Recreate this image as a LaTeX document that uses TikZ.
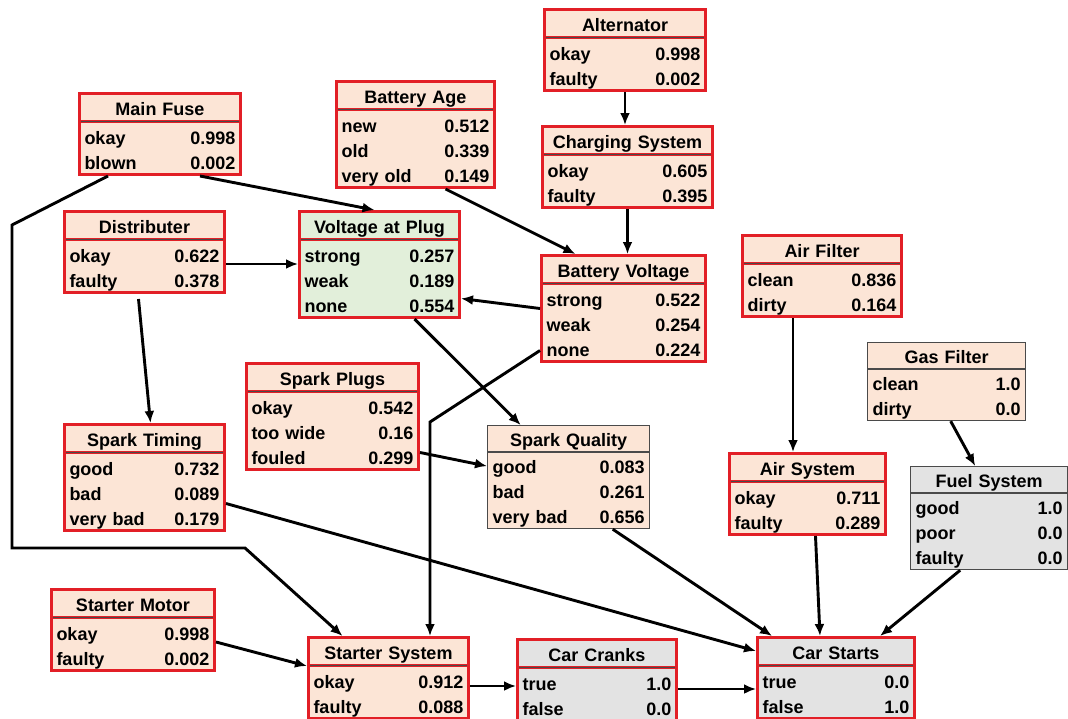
\documentclass[tikz,border=0pt]{standalone}
\usepackage{fontspec}
\setmainfont{Liberation Sans}
\usetikzlibrary{positioning,arrows.meta,calc,shapes.multipart}
\definecolor{cptred}{HTML}{E21F26}
\definecolor{peach}{HTML}{FCE5D6}
\definecolor{plugreen}{HTML}{E2EFDA}
\definecolor{evgray}{HTML}{E3E3E3}
\definecolor{rimgray}{HTML}{4A4A4A}
\newcommand{\cpttitle}[1]{\rule[-5pt]{0pt}{25pt}#1}
\newcommand{\cptrow}[2]{\makebox[\linewidth]{\rule[-4pt]{0pt}{25pt}#1\hfill#2}}
\tikzset{
  flowarrow/.style={-{Latex[length=12pt,width=10pt]}, line width=2.9pt},
  cpt/.style={draw=cptred, line width=3pt, fill=peach, rectangle split, rectangle split parts=2,
    inner xsep=5pt, inner ysep=0pt, align=center, anchor=north west,
    font=\fontsize{18}{25}\selectfont\bfseries},
  plugcpt/.style={cpt, fill=plugreen},
  evidence/.style={cpt, fill=evgray},
  softcpt/.style={cpt, draw=rimgray, line width=1.4pt},
  sepline/.style={draw=rimgray, line width=1.5pt}
}

\begin{document}
\begin{tikzpicture}[x=1pt, y=-1pt, >=Latex]
  \useasboundingbox (0,0) rectangle (1068,718);
  \fill[white] (0,0) rectangle (1068,718);

  % root nodes
  \node[cpt, text width=151pt] (fuse) at (78,92) {\cpttitle{Main Fuse}\nodepart{two}\cptrow{okay}{0.998}\\\cptrow{blown}{0.002}};
  \node[cpt, text width=148pt] (age) at (335,80) {\cpttitle{Battery Age}\nodepart{two}\cptrow{new}{0.512}\\\cptrow{old}{0.339}\\\cptrow{very old}{0.149}};
  \node[cpt, text width=151pt] (alt) at (543,8) {\cpttitle{Alternator}\nodepart{two}\cptrow{okay}{0.998}\\\cptrow{faulty}{0.002}};
  \node[cpt, text width=150pt] (dist) at (63,210) {\cpttitle{Distributer}\nodepart{two}\cptrow{okay}{0.622}\\\cptrow{faulty}{0.378}};
  \node[cpt, text width=149pt] (airf) at (741,234) {\cpttitle{Air Filter}\nodepart{two}\cptrow{clean}{0.836}\\\cptrow{dirty}{0.164}};
  \node[softcpt, text width=148pt] (gasf) at (867,342) {\cpttitle{Gas Filter}\nodepart{two}\cptrow{clean}{1.0}\\\cptrow{dirty}{0.0}};
  \node[cpt, text width=162pt] (plugs) at (245,362) {\cpttitle{Spark Plugs}\nodepart{two}\cptrow{okay}{0.542}\\\cptrow{too wide}{0.16}\\\cptrow{fouled}{0.299}};
  \node[cpt, text width=153pt] (motor) at (50,588) {\cpttitle{Starter Motor}\nodepart{two}\cptrow{okay}{0.998}\\\cptrow{faulty}{0.002}};

  % inner nodes
  \node[cpt, text width=160pt] (charge) at (541,125) {\cpttitle{Charging System}\nodepart{two}\cptrow{okay}{0.605}\\\cptrow{faulty}{0.395}};
  \node[plugcpt, text width=150pt] (vplug) at (298,210) {\cpttitle{Voltage at Plug}\nodepart{two}\cptrow{strong}{0.257}\\\cptrow{weak}{0.189}\\\cptrow{none}{0.554}};
  \node[cpt, text width=154pt] (batt) at (540,254) {\cpttitle{Battery Voltage}\nodepart{two}\cptrow{strong}{0.522}\\\cptrow{weak}{0.254}\\\cptrow{none}{0.224}};
  \node[softcpt, text width=152pt] (squal) at (487,425) {\cpttitle{Spark Quality}\nodepart{two}\cptrow{good}{0.083}\\\cptrow{bad}{0.261}\\\cptrow{very bad}{0.656}};
  \node[cpt, text width=150pt] (timing) at (63,423) {\cpttitle{Spark Timing}\nodepart{two}\cptrow{good}{0.732}\\\cptrow{bad}{0.089}\\\cptrow{very bad}{0.179}};
  \node[cpt, text width=146pt] (airsys) at (728,452) {\cpttitle{Air System}\nodepart{two}\cptrow{okay}{0.711}\\\cptrow{faulty}{0.289}};
  \node[softcpt, fill=evgray, text width=147pt] (fuel) at (910,466) {\cpttitle{Fuel System}\nodepart{two}\cptrow{good}{1.0}\\\cptrow{poor}{0.0}\\\cptrow{faulty}{0.0}};
  \node[cpt, text width=150pt] (starter) at (307,636) {\cpttitle{Starter System}\nodepart{two}\cptrow{okay}{0.912}\\\cptrow{faulty}{0.088}};

  % observed nodes
  \node[evidence, text width=149pt] (cranks) at (516,638) {\cpttitle{Car Cranks}\nodepart{two}\cptrow{true}{1.0}\\\cptrow{false}{0.0}};
  \node[evidence, text width=147pt] (starts) at (756,636) {\cpttitle{Car Starts}\nodepart{two}\cptrow{true}{0.0}\\\cptrow{false}{1.0}};

  % header rules
  \foreach \n in {fuse,age,alt,charge,dist,vplug,batt,airf,plugs,timing,airsys,motor,starter,cranks,starts}
    \draw[sepline] ([xshift=3pt]\n.one split west) -- ([xshift=-3pt]\n.one split east);
  \foreach \n in {gasf,squal,fuel}
    \draw[sepline] ([xshift=1.4pt]\n.one split west) -- ([xshift=-1.4pt]\n.one split east);

  % arcs
  \draw[flowarrow] ([xshift=40pt]fuse.south) -- ([xshift=-5pt]vplug.north);
  \draw[flowarrow] ([xshift=-52pt]fuse.south) -- (12,225) -- (12,548) -- (245,548) -- ([xshift=-46pt]starter.north);
  \coordinate (disttap) at ([yshift=-12pt]dist.east);
  \draw[flowarrow] (disttap) -- (disttap -| vplug.west);
  \draw[flowarrow] ([xshift=-6pt,yshift=-5pt]dist.south) -- ([xshift=6pt]timing.north);
  \draw[flowarrow] ([xshift=30pt]age.south) -- ([xshift=-48pt]batt.north);
  \draw[flowarrow] (alt.south) -- (alt.south |- charge.north);
  \draw[flowarrow] (charge.south) -- (charge.south |- batt.north);
  \draw[flowarrow] (batt.west) -- ([yshift=-34pt]vplug.east);
  \coordinate (battbend) at (430,422);
  \draw[flowarrow] ([yshift=-42pt]batt.west) -- (battbend) -- (battbend |- starter.north);
  \draw[flowarrow] ([xshift=35pt]vplug.south) -- ([xshift=-48pt]squal.north);
  \draw[flowarrow] ([yshift=-36pt]plugs.east) -- ([yshift=11pt]squal.west);
  \draw[flowarrow] ([yshift=-26pt]timing.east) -- ([yshift=27pt]starts.west);
  \draw[flowarrow] ([xshift=44pt]squal.south) -- ([xshift=-64pt]starts.north);
  \coordinate (airtap) at ([xshift=-29pt]airf.south);
  \draw[flowarrow] (airtap) -- (airtap |- airsys.north);
  \draw[flowarrow] ([xshift=4pt]gasf.south) -- ([xshift=-14pt]fuel.north);
  \draw[flowarrow] ([xshift=8pt]airsys.south) -- ([xshift=-16pt]starts.north);
  \draw[flowarrow] ([xshift=-29pt]fuel.south) -- ([xshift=44pt]starts.north);
  \draw[flowarrow] ([yshift=-12pt]motor.east) -- ([yshift=12pt]starter.west);
  \coordinate (startertap) at ([yshift=-8pt]starter.east);
  \draw[flowarrow] (startertap) -- (startertap -| cranks.west);
  \coordinate (crankstap) at ([yshift=-9pt]cranks.east);
  \draw[flowarrow] (crankstap) -- (crankstap -| starts.west);
\end{tikzpicture}
\end{document}
